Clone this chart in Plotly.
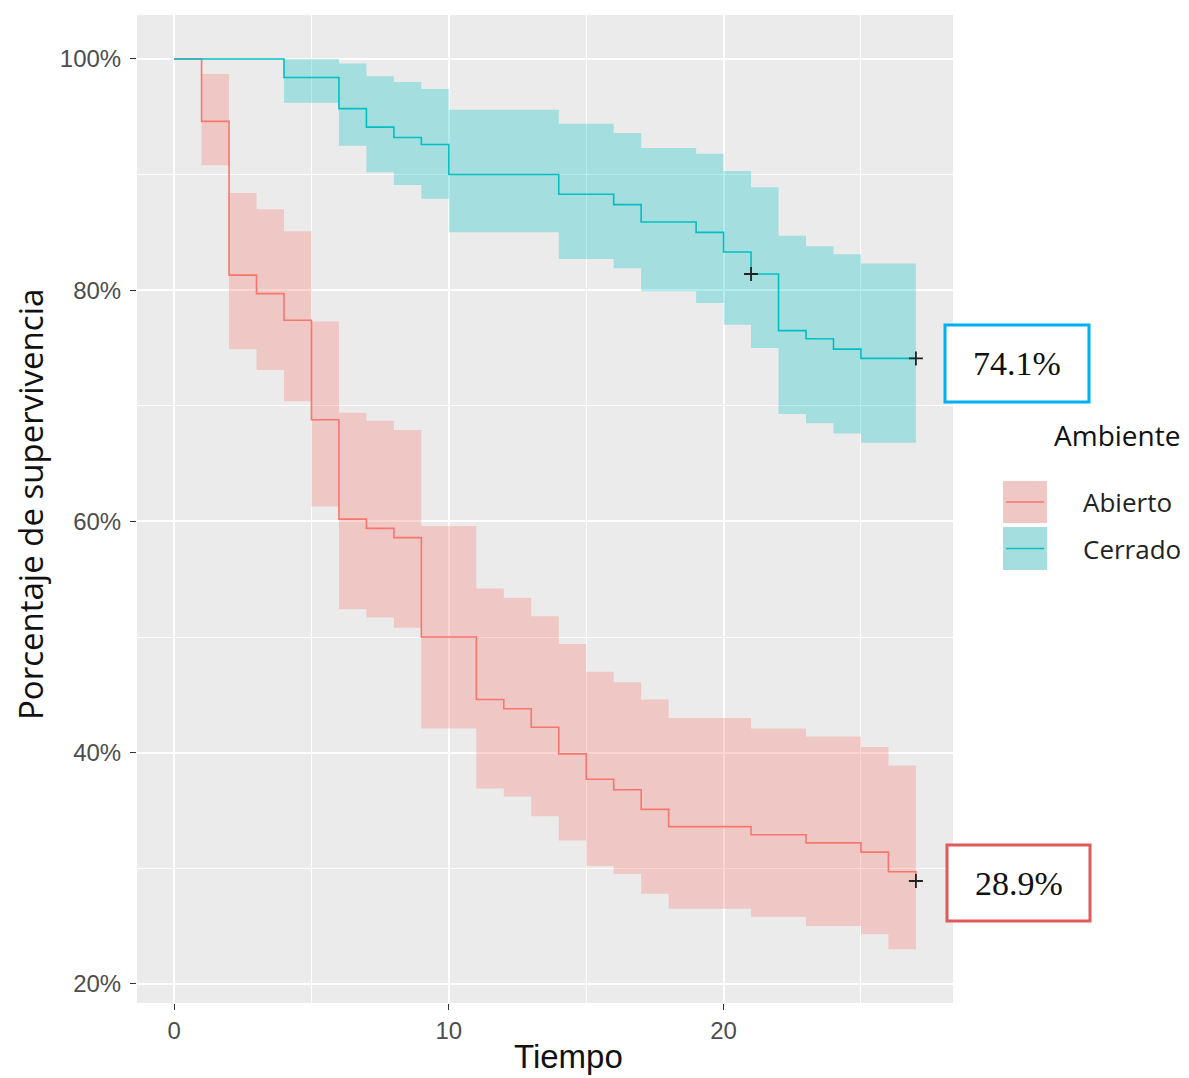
import plotly.graph_objects as go

# ---------------- data ----------------
abierto_time  = [0, 1, 2, 3, 4, 5, 6, 7, 8, 9, 11, 12, 13, 14, 15, 16, 17, 18, 21, 23, 25, 26, 27]
abierto_surv  = [100, 94.6, 81.3, 79.7, 77.4, 68.8, 60.2, 59.4, 58.6, 50.0, 44.6, 43.8, 42.2, 39.9,
                 37.7, 36.8, 35.1, 33.6, 32.9, 32.2, 31.4, 29.7, 28.9]
abierto_upper = [100, 98.7, 88.4, 87.0, 85.1, 77.3, 69.4, 68.7, 67.9, 59.6, 54.2, 53.4, 51.8, 49.4,
                 47.0, 46.1, 44.6, 43.0, 42.1, 41.4, 40.5, 38.9, 38.9]
abierto_lower = [100, 90.8, 74.9, 73.1, 70.4, 61.3, 52.4, 51.7, 50.8, 42.1, 36.9, 36.2, 34.5, 32.4,
                 30.2, 29.5, 27.8, 26.5, 25.8, 25.0, 24.3, 23.0, 23.0]

cerrado_time  = [0, 4, 6, 7, 8, 9, 10, 14, 16, 17, 19, 20, 21, 22, 23, 24, 25, 27]
cerrado_surv  = [100, 98.4, 95.7, 94.1, 93.2, 92.6, 90.0, 88.3, 87.4, 85.9, 85.0, 83.3, 81.4,
                 76.5, 75.8, 74.9, 74.1, 74.1]
cerrado_upper = [100, 100, 99.6, 98.5, 98.0, 97.4, 95.6, 94.4, 93.6, 92.3, 91.8, 90.3, 88.9,
                 84.7, 83.8, 83.1, 82.3, 82.3]
cerrado_lower = [100, 96.2, 92.5, 90.2, 89.1, 87.9, 85.0, 82.7, 81.9, 79.9, 78.9, 77.0, 75.0,
                 69.3, 68.5, 67.6, 66.8, 66.8]

abierto_cens_time = [27]
abierto_cens_surv = [28.9]
cerrado_cens_time = [21, 27]
cerrado_cens_surv = [81.4, 74.1]

x_ticks = [0, 10, 20]
x_minor = [5, 15, 25]
y_ticks = [20, 40, 60, 80, 100]
y_tick_labels = ["20%", "40%", "60%", "80%", "100%"]
y_minor = [30, 50, 70, 90]

groups = ["Abierto", "Cerrado"]
final_labels = ["28.9%", "74.1%"]

RED = "#F8766D"
TEAL = "#00BFC4"
RED_FILL = "rgba(248,118,109,0.30)"
TEAL_FILL = "rgba(0,191,196,0.30)"
RED_KEY = "#EFC8C5"
TEAL_KEY = "#A5DEDF"

# ---------------- figure ----------------
OFF = 8  # page body margin
W, H = 1189 - OFF, 1078 - OFF
ML, MT = 137 - OFF, 15 - OFF
MR = W - (953 - OFF)
MB = H - (1003 - OFF)
PW, PH = W - ML - MR, H - MT - MB


def px(xp):
    return (xp - OFF - ML) / PW


def py(yp):
    return (H - MB - (yp - OFF)) / PH


fig = go.Figure()

series = [
    (abierto_time, abierto_surv, abierto_upper, abierto_lower, RED, RED_FILL,
     abierto_cens_time, abierto_cens_surv),
    (cerrado_time, cerrado_surv, cerrado_upper, cerrado_lower, TEAL, TEAL_FILL,
     cerrado_cens_time, cerrado_cens_surv),
]

for name, (t, s, up, lo, col, fcol, ct, cs) in zip(groups, series):
    fig.add_trace(go.Scatter(x=t, y=up, mode="lines", line=dict(width=0, shape="hv", color=col),
                             showlegend=False, hoverinfo="skip"))
    fig.add_trace(go.Scatter(x=t, y=lo, mode="lines", line=dict(width=0, shape="hv", color=col),
                             fill="tonexty", fillcolor=fcol, showlegend=False, hoverinfo="skip"))

for name, (t, s, up, lo, col, fcol, ct, cs) in zip(groups, series):
    fig.add_trace(go.Scatter(x=t, y=s, mode="lines", name=name,
                             line=dict(width=1.6, shape="hv", color=col), showlegend=False))

for name, (t, s, up, lo, col, fcol, ct, cs) in zip(groups, series):
    fig.add_trace(go.Scatter(x=ct, y=cs, mode="markers", showlegend=False,
                             marker=dict(symbol="cross-thin", size=10,
                                         line=dict(width=1.8, color="#222222"))))

tick_font = dict(family="Liberation Sans, Arial, sans-serif", size=24, color="#4D4D4D")

fig.update_layout(
    width=W, height=H,
    margin=dict(l=ML, r=MR, t=MT, b=MB),
    paper_bgcolor="white",
    plot_bgcolor="#EBEBEB",
    showlegend=False,
    xaxis=dict(range=[-1.35, 28.35], tickvals=x_ticks, ticktext=[str(v) for v in x_ticks],
               showgrid=True, gridcolor="white", gridwidth=1.6, zeroline=False, showline=False,
               ticks="outside", ticklen=6, tickwidth=1.2, tickcolor="#333333", tickfont=tick_font,
               minor=dict(tickvals=x_minor, showgrid=True, gridcolor="white", gridwidth=1, ticks="")),
    yaxis=dict(range=[18.35, 103.8], tickvals=y_ticks, ticktext=y_tick_labels,
               showgrid=True, gridcolor="white", gridwidth=1.6, zeroline=False, showline=False,
               ticks="outside", ticklen=6, tickwidth=1.2, tickcolor="#333333", tickfont=tick_font,
               ticklabelstandoff=4,
               minor=dict(tickvals=y_minor, showgrid=True, gridcolor="white", gridwidth=1, ticks="")),
)

# axis titles
fig.add_annotation(text="Tiempo", xref="paper", yref="paper", x=px(568), y=py(1077),
                   xanchor="center", yanchor="bottom", showarrow=False,
                   font=dict(family="Liberation Sans, Arial, sans-serif", size=33, color="#111111"))
fig.add_annotation(text="Porcentaje de supervivencia", xref="paper", yref="paper",
                   x=px(31), y=py(505), xanchor="center", yanchor="middle", textangle=-90,
                   showarrow=False, borderpad=0,
                   font=dict(family="Open Sans, sans-serif", size=33, color="#111111"))

# manual legend
fig.add_annotation(text="Ambiente", xref="paper", yref="paper", x=px(1117), y=py(435),
                   xanchor="center", yanchor="middle", showarrow=False,
                   font=dict(family="Open Sans, sans-serif", size=28, color="#111111"))
legend_rows = [(481, 523, RED, RED_KEY), (527, 570, TEAL, TEAL_KEY)]
for name, (y0, y1, col, kcol) in zip(groups, legend_rows):
    fig.add_shape(type="rect", xref="paper", yref="paper", x0=px(1003), x1=px(1047),
                  y0=py(y1), y1=py(y0), fillcolor=kcol, line=dict(width=0), layer="above")
    ym = (y0 + y1) / 2
    fig.add_shape(type="line", xref="paper", yref="paper", x0=px(1006), x1=px(1044),
                  y0=py(ym), y1=py(ym), line=dict(color=col, width=1.6), layer="above")
    fig.add_annotation(text=name, xref="paper", yref="paper", x=px(1081), y=py(ym),
                       xanchor="left", yanchor="middle", showarrow=False,
                       font=dict(family="Open Sans, sans-serif", size=26, color="#222222"))

# final-value boxes
boxes = [(947, 1090, 845, 921, "#E05A5A"), (945, 1089, 325, 402, "#00B0F0")]
for lab, (x0, x1, y0, y1, bc) in zip(final_labels, boxes):
    fig.add_shape(type="rect", xref="paper", yref="paper", x0=px(x0), x1=px(x1),
                  y0=py(y1), y1=py(y0), fillcolor="white", line=dict(color=bc, width=3))
    fig.add_annotation(text=lab, xref="paper", yref="paper", x=px((x0 + x1) / 2),
                       y=py((y0 + y1) / 2), xanchor="center", yanchor="middle", showarrow=False,
                       font=dict(family="Liberation Serif, Times New Roman, serif", size=34,
                                 color="#111111"))

fig.write_html("out.html")
